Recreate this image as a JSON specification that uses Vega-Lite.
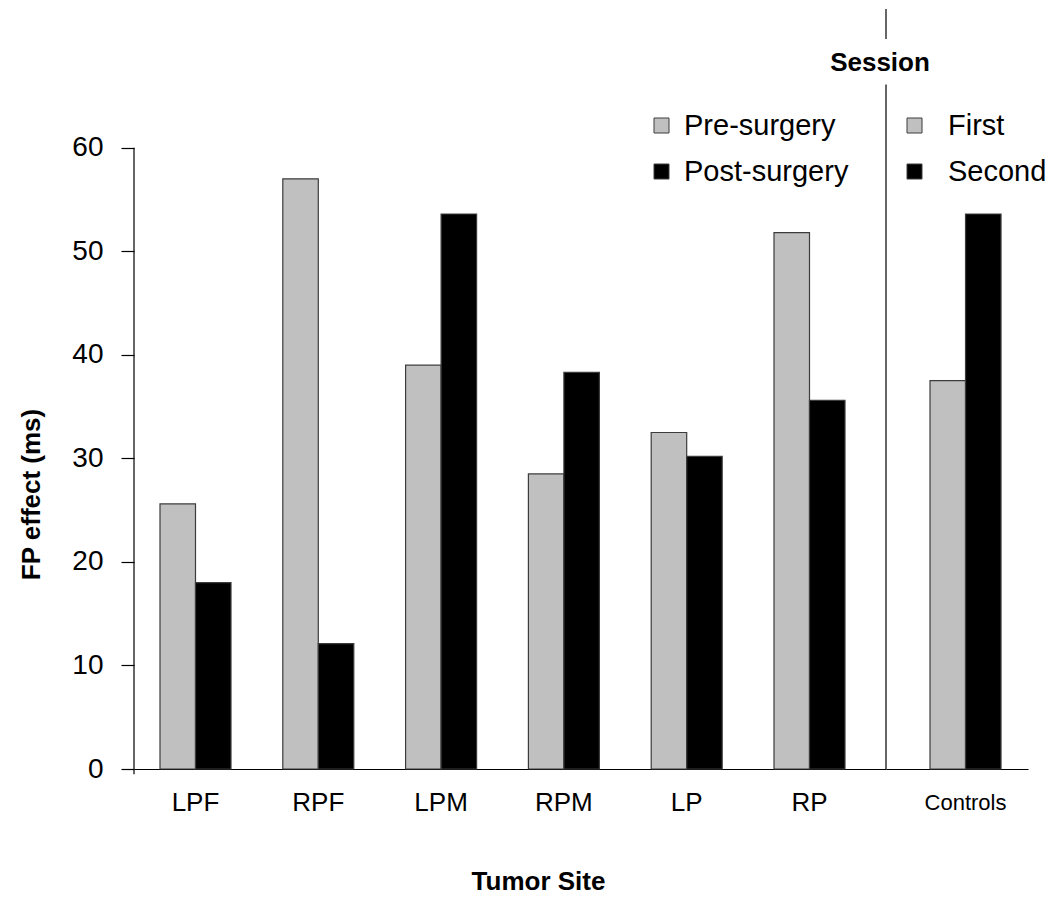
{
  "$schema": "https://vega.github.io/schema/vega-lite/v6.json",
  "padding": {"left": 18, "top": 8, "right": 5, "bottom": 5},
  "background": "white",
  "config": {
    "view": {"stroke": null},
    "font": "Liberation Sans",
    "axis": {"grid": false}
  },
  "datasets": {
    "patients": [
      {"site": "LPF", "surgery": "Pre-surgery", "value": 25.6},
      {"site": "LPF", "surgery": "Post-surgery", "value": 18.0},
      {"site": "RPF", "surgery": "Pre-surgery", "value": 57.0},
      {"site": "RPF", "surgery": "Post-surgery", "value": 12.1},
      {"site": "LPM", "surgery": "Pre-surgery", "value": 39.0},
      {"site": "LPM", "surgery": "Post-surgery", "value": 53.6},
      {"site": "RPM", "surgery": "Pre-surgery", "value": 28.5},
      {"site": "RPM", "surgery": "Post-surgery", "value": 38.3},
      {"site": "LP", "surgery": "Pre-surgery", "value": 32.5},
      {"site": "LP", "surgery": "Post-surgery", "value": 30.2},
      {"site": "RP", "surgery": "Pre-surgery", "value": 51.8},
      {"site": "RP", "surgery": "Post-surgery", "value": 35.6}
    ],
    "controls": [
      {"site": "Controls", "session": "First", "value": 37.5},
      {"site": "Controls", "session": "Second", "value": 53.6}
    ]
  },
  "spacing": 0,
  "bounds": "flush",
  "resolve": {"scale": {"color": "independent", "x": "independent", "y": "independent", "xOffset": "independent"}},
  "hconcat": [
    {
      "width": 752,
      "height": 760,
      "data": {"name": "patients"},
      "layer": [
        {
          "mark": {"type": "bar", "stroke": "#3c3c3c", "strokeWidth": 1.2},
          "encoding": {
            "x": {
              "field": "site", "type": "nominal", "sort": null,
              "scale": {"domain": ["LPF", "RPF", "LPM", "RPM", "LP", "RP"], "paddingInner": 0.4218, "paddingOuter": 0.2728, "align": 0.388},
              "axis": {
                "title": "Tumor Site", "domain": true, "domainColor": "black", "domainWidth": 1.2,
                "ticks": false, "tickSize": 0, "labelAngle": 0, "labelFontSize": 26, "labelColor": "black",
                "labelPadding": 33, "labelBaseline": "middle",
                "titleFontSize": 26, "titleFontWeight": "bold", "titleColor": "black",
                "titleX": 404, "titleY": 112, "titleBaseline": "middle", "titleAlign": "center"
              }
            },
            "xOffset": {
              "field": "surgery", "type": "nominal",
              "scale": {"domain": ["Pre-surgery", "Post-surgery"], "paddingInner": 0, "paddingOuter": 0}
            },
            "y": {
              "field": "value", "type": "quantitative",
              "scale": {"domain": [0, 73.4], "nice": false},
              "axis": {
                "title": "FP effect (ms)", "values": [0, 10, 20, 30, 40, 50, 60], "domain": false,
                "tickSize": 13, "tickColor": "black", "tickWidth": 1.2,
                "labelFontSize": 28, "labelColor": "black", "labelPadding": 18,
                "titleFontSize": 26, "titleFontWeight": "bold", "titleColor": "black",
                "titleX": -90, "titleY": 485
              }
            },
            "color": {
              "field": "surgery", "type": "nominal",
              "scale": {"domain": ["Pre-surgery", "Post-surgery"], "range": ["#c0c0c0", "#000000"]},
              "legend": {
                "title": null, "orient": "none", "legendX": 513, "legendY": 102,
                "labelFontSize": 29, "labelColor": "black", "labelLimit": 0,
                "symbolType": "square", "symbolSize": 225, "symbolStrokeColor": "#3c3c3c", "symbolStrokeWidth": 1,
                "labelOffset": 8, "rowPadding": 16
              }
            }
          }
        },
        {
          "data": {"values": [{}]},
          "mark": {"type": "rule", "color": "black", "strokeWidth": 1.2},
          "encoding": {"x": {"value": 0}, "y": {"datum": -0.5}, "y2": {"datum": 60}}
        }
      ]
    },
    {
      "width": 142,
      "height": 760,
      "data": {"name": "controls"},
      "layer": [
        {
          "mark": {"type": "bar", "stroke": "#3c3c3c", "strokeWidth": 1.2},
          "encoding": {
            "x": {
              "field": "site", "type": "nominal",
              "scale": {"domain": ["Controls"], "paddingInner": 0, "paddingOuter": 0.5, "align": 0.62},
              "axis": {
                "title": null, "domain": true, "domainColor": "black", "domainWidth": 1.2,
                "ticks": false, "tickSize": 0, "labelAngle": 0, "labelFontSize": 22, "labelColor": "black",
                "labelPadding": 33, "labelBaseline": "middle"
              }
            },
            "xOffset": {
              "field": "session", "type": "nominal",
              "scale": {"domain": ["First", "Second"], "paddingInner": 0, "paddingOuter": 0}
            },
            "y": {
              "field": "value", "type": "quantitative",
              "scale": {"domain": [0, 73.4], "nice": false},
              "axis": null
            },
            "color": {
              "field": "session", "type": "nominal",
              "scale": {"domain": ["First", "Second"], "range": ["#c0c0c0", "#000000"]},
              "legend": {
                "title": null, "orient": "none", "legendX": 14, "legendY": 102,
                "labelFontSize": 29, "labelColor": "black", "labelLimit": 0,
                "symbolType": "square", "symbolSize": 225, "symbolStrokeColor": "#3c3c3c", "symbolStrokeWidth": 1,
                "labelOffset": 19, "rowPadding": 16
              }
            }
          }
        },
        {
          "data": {"values": [{}]},
          "mark": {"type": "rule", "color": "black", "strokeWidth": 1.2},
          "encoding": {"x": {"value": 0}, "y": {"datum": 0}, "y2": {"datum": 66.1}}
        },
        {
          "data": {"values": [{}]},
          "mark": {"type": "rule", "color": "black", "strokeWidth": 1.2},
          "encoding": {"x": {"value": 0}, "y": {"datum": 70.5}, "y2": {"datum": 73.4}}
        },
        {
          "data": {"values": [{}]},
          "mark": {"type": "text", "fontWeight": "bold", "fontSize": 26, "dx": -6, "color": "black", "baseline": "middle"},
          "encoding": {"x": {"value": 0}, "y": {"datum": 68.2}, "text": {"value": "Session"}}
        }
      ]
    }
  ]
}
